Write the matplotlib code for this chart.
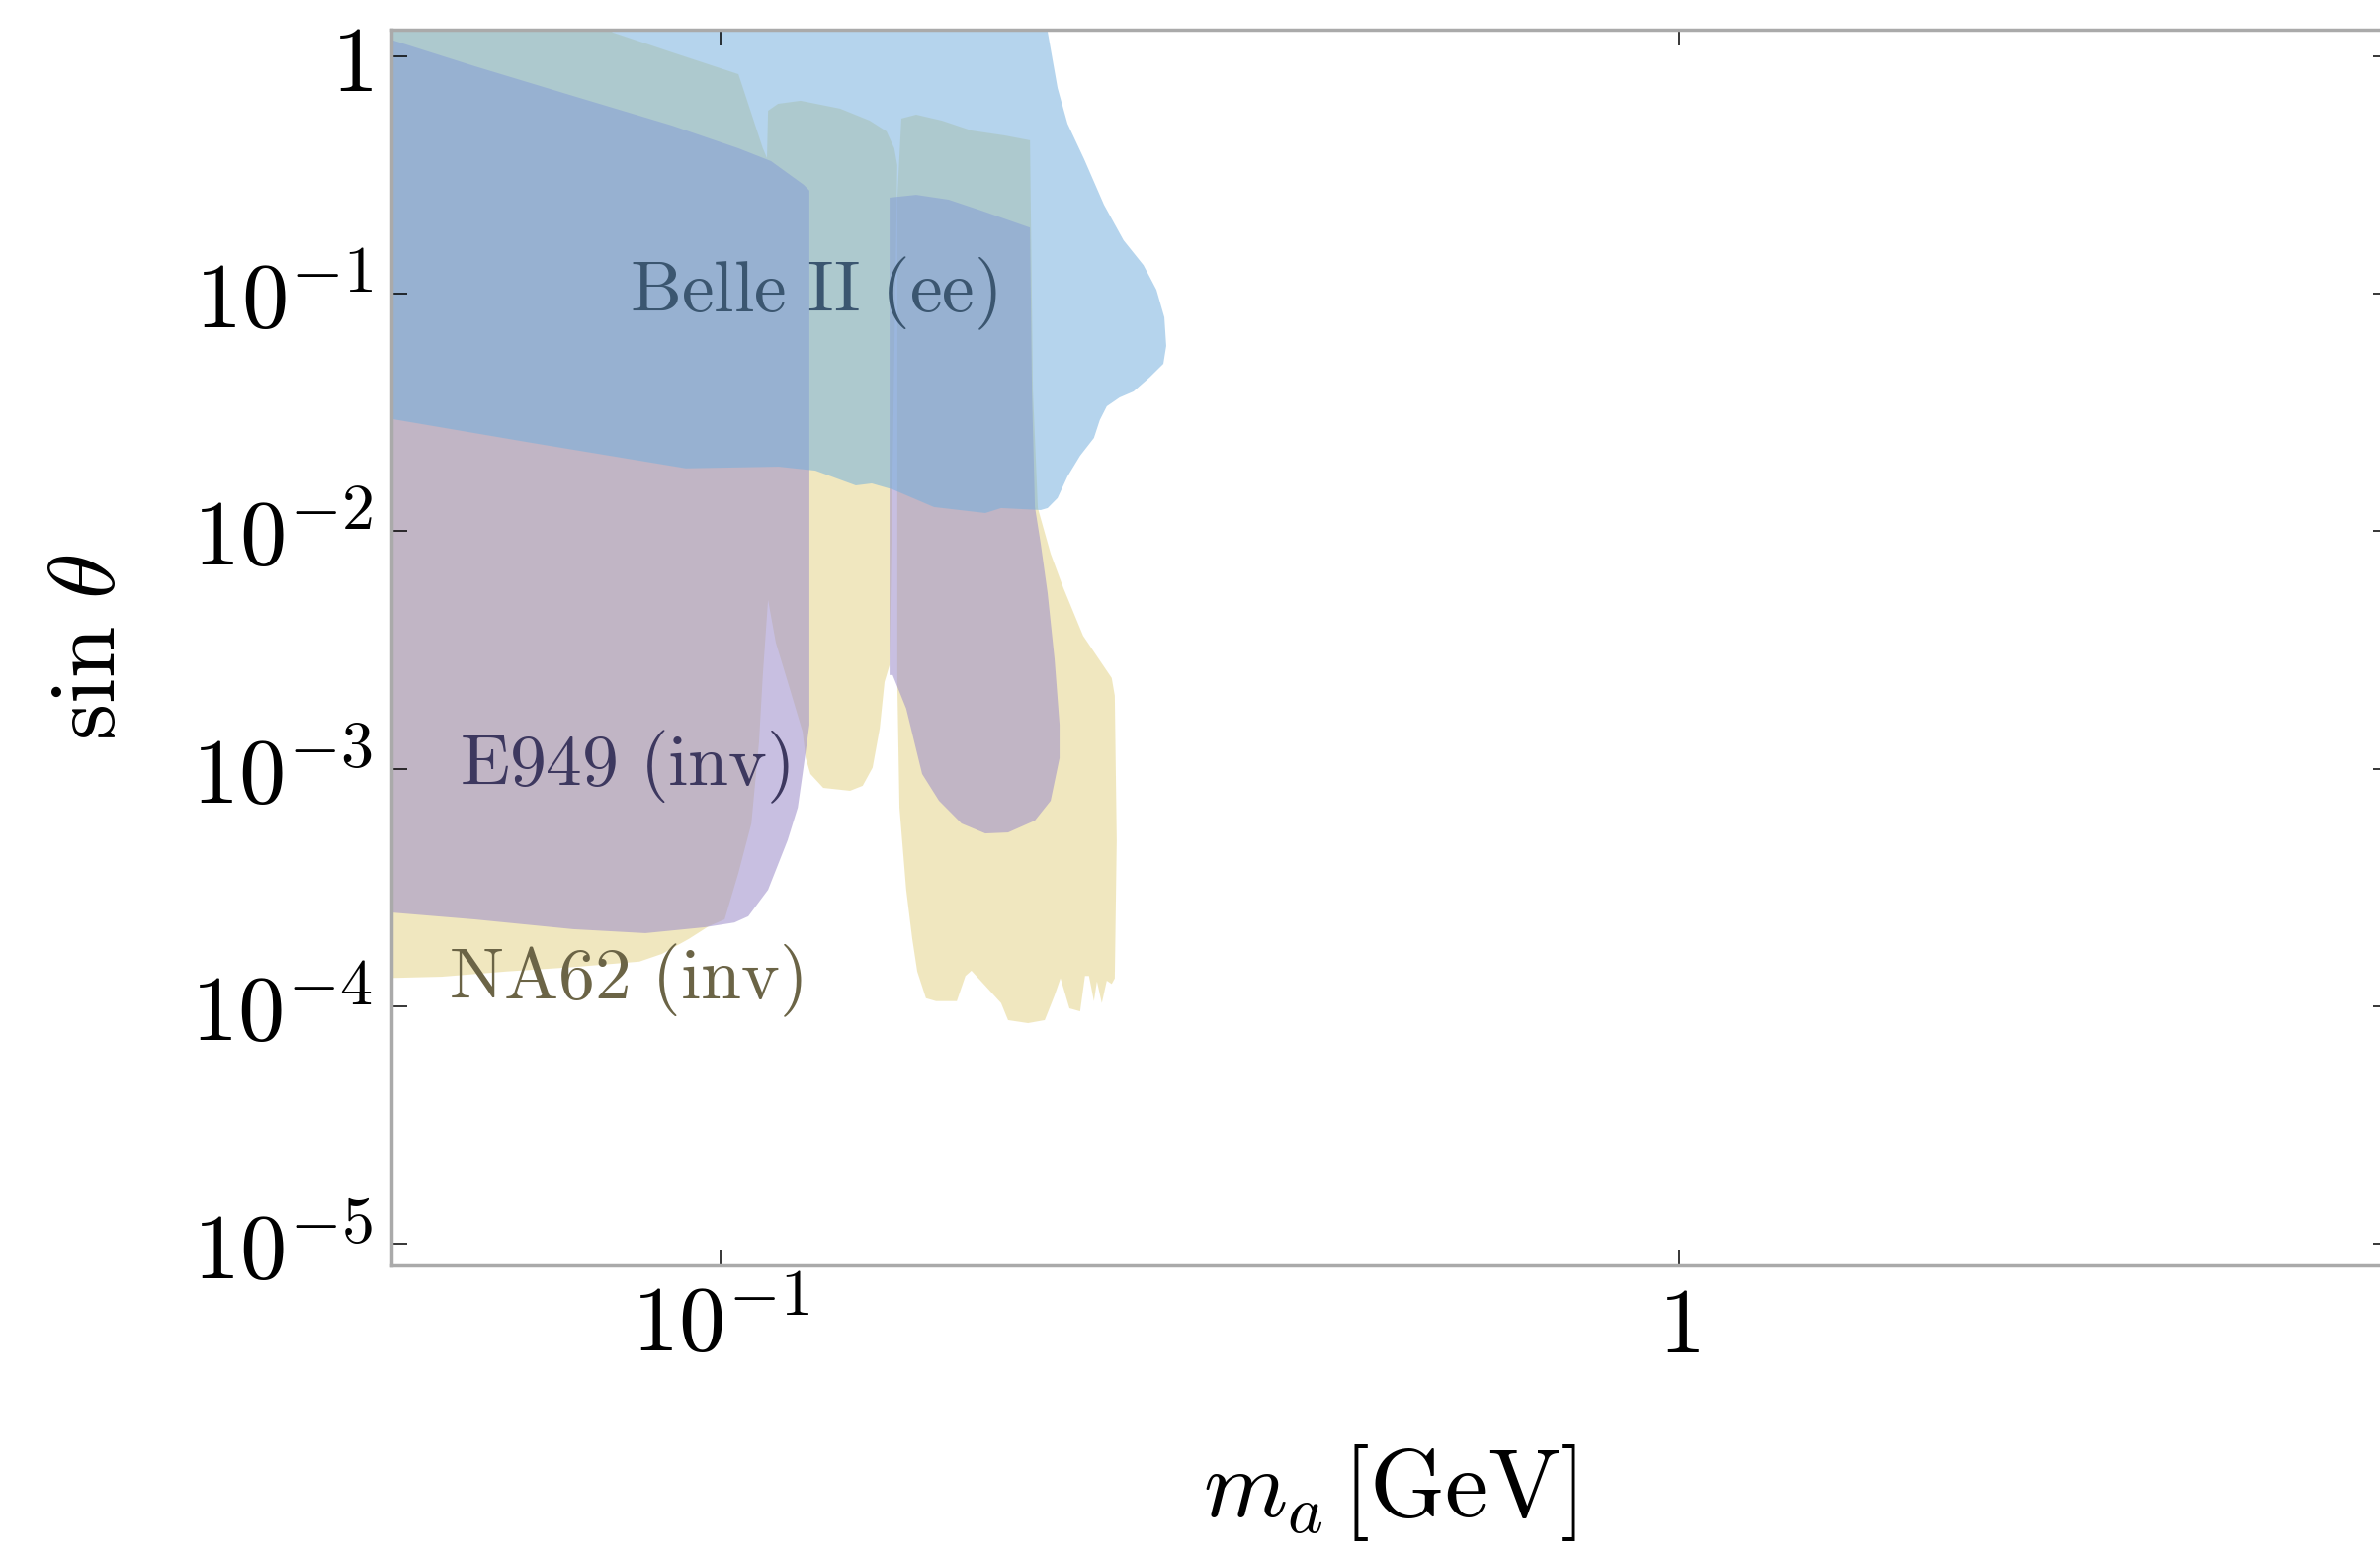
"""
Axion-like particle limits in the (m_a, sin theta) plane.
"""

# Load packages
import numpy as np
import matplotlib.pyplot as plt
from matplotlib.ticker import NullLocator

plt.rcParams['mathtext.fontset'] = 'cm'
plt.rcParams['font.family'] = 'DejaVu Serif'

# Data -----------------------------------------------------------------------

## NA62 (inv): left block plus the middle column
na62_m = [0.044, 0.0750, 0.0772, 0.0890, 0.1044, 0.1107, 0.1118, 0.1121,
          0.1148, 0.1212, 0.1333, 0.1431, 0.1490, 0.1518, 0.1529, 0.1501,
          0.1483, 0.1466, 0.1441, 0.1407, 0.1365, 0.1280, 0.1241, 0.1227,
          0.1218, 0.1184, 0.1142, 0.1121, 0.1107, 0.1097, 0.1077, 0.1044,
          0.1010, 0.0972, 0.0927, 0.0869, 0.0823, 0.0702, 0.0599, 0.0512,
          0.044]
na62_s = [2.0, 1.40, 1.26, 1.04, 0.841, 0.410, 0.373, 0.590,
          0.631, 0.650, 0.602, 0.536, 0.483, 0.410, 0.348, 2.73e-3,
          2.32e-3, 1.48e-3, 1.01e-3, 8.47e-4, 8.07e-4, 8.30e-4, 9.50e-4, 1.11e-3,
          1.43e-3, 2.10e-3, 3.40e-3, 5.13e-3, 2.48e-3, 1.30e-3, 5.88e-4, 3.64e-4,
          2.32e-4, 2.17e-4, 1.92e-4, 1.66e-4, 1.54e-4, 1.46e-4, 1.40e-4, 1.33e-4,
          1.31e-4]

## NA62 (inv): right column with the ragged lower edge
na62r_m = [0.1544, 0.1600, 0.1702, 0.1827, 0.1981, 0.2103, 0.2118, 0.2143,
           0.2210, 0.2279, 0.2389, 0.2559, 0.2578, 0.2590, 0.2578, 0.2559,
           0.2529, 0.2499, 0.2470, 0.2452, 0.2423, 0.2400, 0.2372, 0.2312,
           0.2263, 0.2231, 0.2179, 0.2093, 0.1995, 0.1962, 0.1871, 0.1827,
           0.1801, 0.1764, 0.1678, 0.1638, 0.1604, 0.1585, 0.1562, 0.1537,
           0.1529, 0.1529]
na62r_s = [0.547, 0.568, 0.536, 0.487, 0.464, 0.443, 0.0388, 0.01252,
           8.05e-3, 5.76e-3, 3.63e-3, 2.41e-3, 2.03e-3, 5.00e-4, 1.31e-4, 1.24e-4,
           1.28e-4, 1.03e-4, 1.27e-4, 1.05e-4, 1.34e-4, 1.34e-4, 9.51e-5, 9.79e-5,
           1.31e-4, 1.11e-4, 8.73e-5, 8.48e-5, 8.73e-5, 1.03e-4, 1.27e-4, 1.41e-4,
           1.34e-4, 1.05e-4, 1.05e-4, 1.08e-4, 1.40e-4, 1.92e-4, 3.09e-4, 6.86e-4,
           2.32e-3, 0.254]

## E949 (inv): left block
e949_m = [0.044, 0.0554, 0.0702, 0.0890, 0.1044, 0.1129, 0.1221, 0.1238,
          0.1238, 0.1218, 0.1204, 0.1175, 0.1121, 0.1069, 0.1034, 0.0963,
          0.0835, 0.0702, 0.0554, 0.0454, 0.044]
e949_s = [1.22, 0.909, 0.681, 0.511, 0.410, 0.362, 0.288, 0.272,
          1.53e-3, 9.50e-4, 6.86e-4, 5.00e-4, 3.09e-4, 2.39e-4, 2.25e-4, 2.15e-4,
          2.03e-4, 2.11e-4, 2.32e-4, 2.48e-4, 2.50e-4]

## E949 (inv): right block
e949r_m = [0.1501, 0.1600, 0.1730, 0.1871, 0.2103, 0.2113, 0.2128, 0.2158,
           0.2194, 0.2231, 0.2258, 0.2258, 0.2210, 0.2128, 0.1995, 0.1889,
           0.1784, 0.1690, 0.1623, 0.1562, 0.1512, 0.1501]
e949r_s = [0.254, 0.261, 0.249, 0.224, 0.190, 0.0388, 0.01264, 8.86e-3,
           5.49e-3, 2.89e-3, 1.53e-3, 1.11e-3, 7.33e-4, 6.05e-4, 5.39e-4, 5.34e-4,
           5.88e-4, 7.33e-4, 9.50e-4, 1.79e-3, 2.48e-3, 2.48e-3]

## Belle II (ee)
belle_m = [0.044, 0.2190, 0.2194, 0.2247, 0.2301, 0.2395, 0.2512, 0.2633,
           0.2762, 0.2849, 0.2904, 0.2917, 0.2897, 0.2802, 0.2697, 0.2608,
           0.2529, 0.2487, 0.2452, 0.2372, 0.2301, 0.2247, 0.2194, 0.2158,
           0.1962, 0.1889, 0.1670, 0.1512, 0.1438, 0.1384, 0.1256, 0.1150,
           0.0920, 0.0634, 0.0454, 0.044]
belle_s = [2.0, 2.0, 1.27, 0.736, 0.521, 0.369, 0.237, 0.168,
           0.132, 0.104, 0.0796, 0.0603, 0.0507, 0.0444, 0.0388, 0.0366,
           0.0336, 0.0294, 0.0247, 0.0208, 0.0170, 0.0138, 0.01252, 0.01228,
           0.01252, 0.01193, 0.01264, 0.0150, 0.0159, 0.0156, 0.0180, 0.0187,
           0.0184, 0.0236, 0.0297, 0.0300]

## Axis ticks
x_ticks = [0.1, 1.0]
x_ticklabels = [r'$10^{-1}$', r'$1$']
y_ticks = [1.0, 1e-1, 1e-2, 1e-3, 1e-4, 1e-5]
y_ticklabels = [r'$1$', r'$10^{-1}$', r'$10^{-2}$', r'$10^{-3}$',
                r'$10^{-4}$', r'$10^{-5}$']

# Plot -----------------------------------------------------------------------

fig = plt.figure(figsize=(24.08, 15.73), dpi=100)
ax = fig.add_axes([0.16445, 0.18627, 0.83929, 0.79466])

# NA62 first, E949 over it, Belle II on top
ax.fill(na62_m, na62_s, color='#e3d181', alpha=0.5, lw=0)
ax.fill(na62r_m, na62r_s, color='#e3d181', alpha=0.5, lw=0)
ax.fill(e949_m, e949_s, color='#9b8cca', alpha=0.55, lw=0)
ax.fill(e949r_m, e949r_s, color='#9b8cca', alpha=0.55, lw=0)
ax.fill(belle_m, belle_s, color='#73afdd', alpha=0.53, lw=0)

# Region labels
ax.text(0.0804, 0.0843, r'$\mathrm{Belle\ II\ (ee)}$', fontsize=53,
        color='#3b5670', ha='left', va='baseline')
ax.text(0.0534, 8.54e-4, r'$\mathrm{E949\ (inv)}$', fontsize=53,
        color='#3d385f', ha='left', va='baseline')
ax.text(0.0521, 1.077e-4, r'$\mathrm{NA62\ (inv)}$', fontsize=53,
        color='#6b6446', ha='left', va='baseline')

# Axes
ax.set_xscale('log')
ax.set_yscale('log')
ax.set_xlim(0.04536, 5.5)
ax.set_ylim(8.1e-6, 1.295)
ax.set_xticks(x_ticks)
ax.set_xticklabels(x_ticklabels)
ax.set_yticks(y_ticks)
ax.set_yticklabels(y_ticklabels)
ax.xaxis.set_minor_locator(NullLocator())
ax.yaxis.set_minor_locator(NullLocator())
ax.tick_params(which='major', direction='in', length=11.5, width=1.1,
               color='black', top=True, right=True, labelsize=68, pad=14)
ax.tick_params(axis='x', pad=12)

for spine in ax.spines.values():
    spine.set_color('#aaaaaa')
    spine.set_linewidth(2.5)

ax.set_xlabel(r'$m_a\,[\mathrm{GeV}]$', fontsize=70, labelpad=52)
ax.set_ylabel(r'$\sin\,\theta$', fontsize=68, labelpad=42)

fig.savefig('out.png', dpi=100)
